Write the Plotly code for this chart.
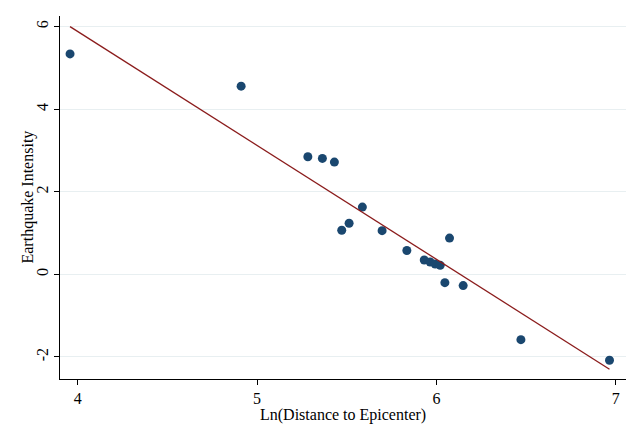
import numpy as np
import plotly.graph_objects as go

# Ln(distance to epicenter) and earthquake intensity
ln_distance = [3.957, 4.911, 5.283, 5.364, 5.431, 5.472, 5.513, 5.587, 5.697, 5.835,
               5.932, 5.965, 5.993, 6.021, 6.047, 6.073, 6.149, 6.471, 6.965]
intensity = [5.34, 4.56, 2.85, 2.81, 2.72, 1.07, 1.24, 1.63, 1.06, 0.58,
             0.35, 0.30, 0.25, 0.22, -0.20, 0.88, -0.27, -1.58, -2.08]

# Linear fit
fit_intercept = 16.92
fit_slope = -2.759

x_ticks = [4, 5, 6, 7]
y_ticks = [-2, 0, 2, 4, 6]
x_title = "Ln(Distance to Epicenter)"
y_title = "Earthquake Intensity"

fit_x = [min(ln_distance), max(ln_distance)]
fit_y = [fit_intercept + fit_slope * v for v in fit_x]

font = "Liberation Serif, Times New Roman, serif"

fig = go.Figure()
fig.add_trace(go.Scatter(
    x=ln_distance, y=intensity, mode="markers",
    marker=dict(color="#1a476f", size=9, line=dict(width=0)),
    showlegend=False, hoverinfo="skip"))
fig.add_trace(go.Scatter(
    x=fit_x, y=fit_y, mode="lines",
    line=dict(color="#8b1c1c", width=1.3),
    showlegend=False, hoverinfo="skip"))

# the page body adds an 8px offset, so the figure is sized to fill the rest
fig.update_layout(
    width=632, height=419,
    margin=dict(l=52, r=14, t=8, b=48, autoexpand=False),
    paper_bgcolor="white", plot_bgcolor="white",
    font=dict(family=font, size=16, color="black"),
    xaxis=dict(
        range=[3.901, 7.057], tickvals=x_ticks, ticktext=[str(v) for v in x_ticks],
        showgrid=False, zeroline=False, automargin=False,
        showline=True, linecolor="black", linewidth=1,
        ticks="outside", ticklen=5, tickcolor="black", tickwidth=1,
        tickfont=dict(family=font, size=16),
    ),
    yaxis=dict(
        range=[-2.533, 6.259], tickvals=y_ticks, ticktext=[str(v) for v in y_ticks],
        showgrid=True, gridcolor="#e8eff1", gridwidth=1, zeroline=False, automargin=False,
        showline=True, linecolor="black", linewidth=1,
        ticks="outside", ticklen=5, tickcolor="black", tickwidth=1,
        tickangle=-90,
        tickfont=dict(family=font, size=16),
    ),
    annotations=[
        dict(text=x_title, xref="paper", yref="paper", x=0.5, y=0,
             xanchor="center", yanchor="middle", yshift=-36, showarrow=False,
             font=dict(family=font, size=16, color="black")),
        dict(text=y_title, xref="paper", yref="paper", x=0, y=0.5,
             xanchor="center", yanchor="middle", xshift=-33, textangle=-90,
             showarrow=False, font=dict(family=font, size=16, color="black")),
    ],
)

fig.write_html("out.html")
